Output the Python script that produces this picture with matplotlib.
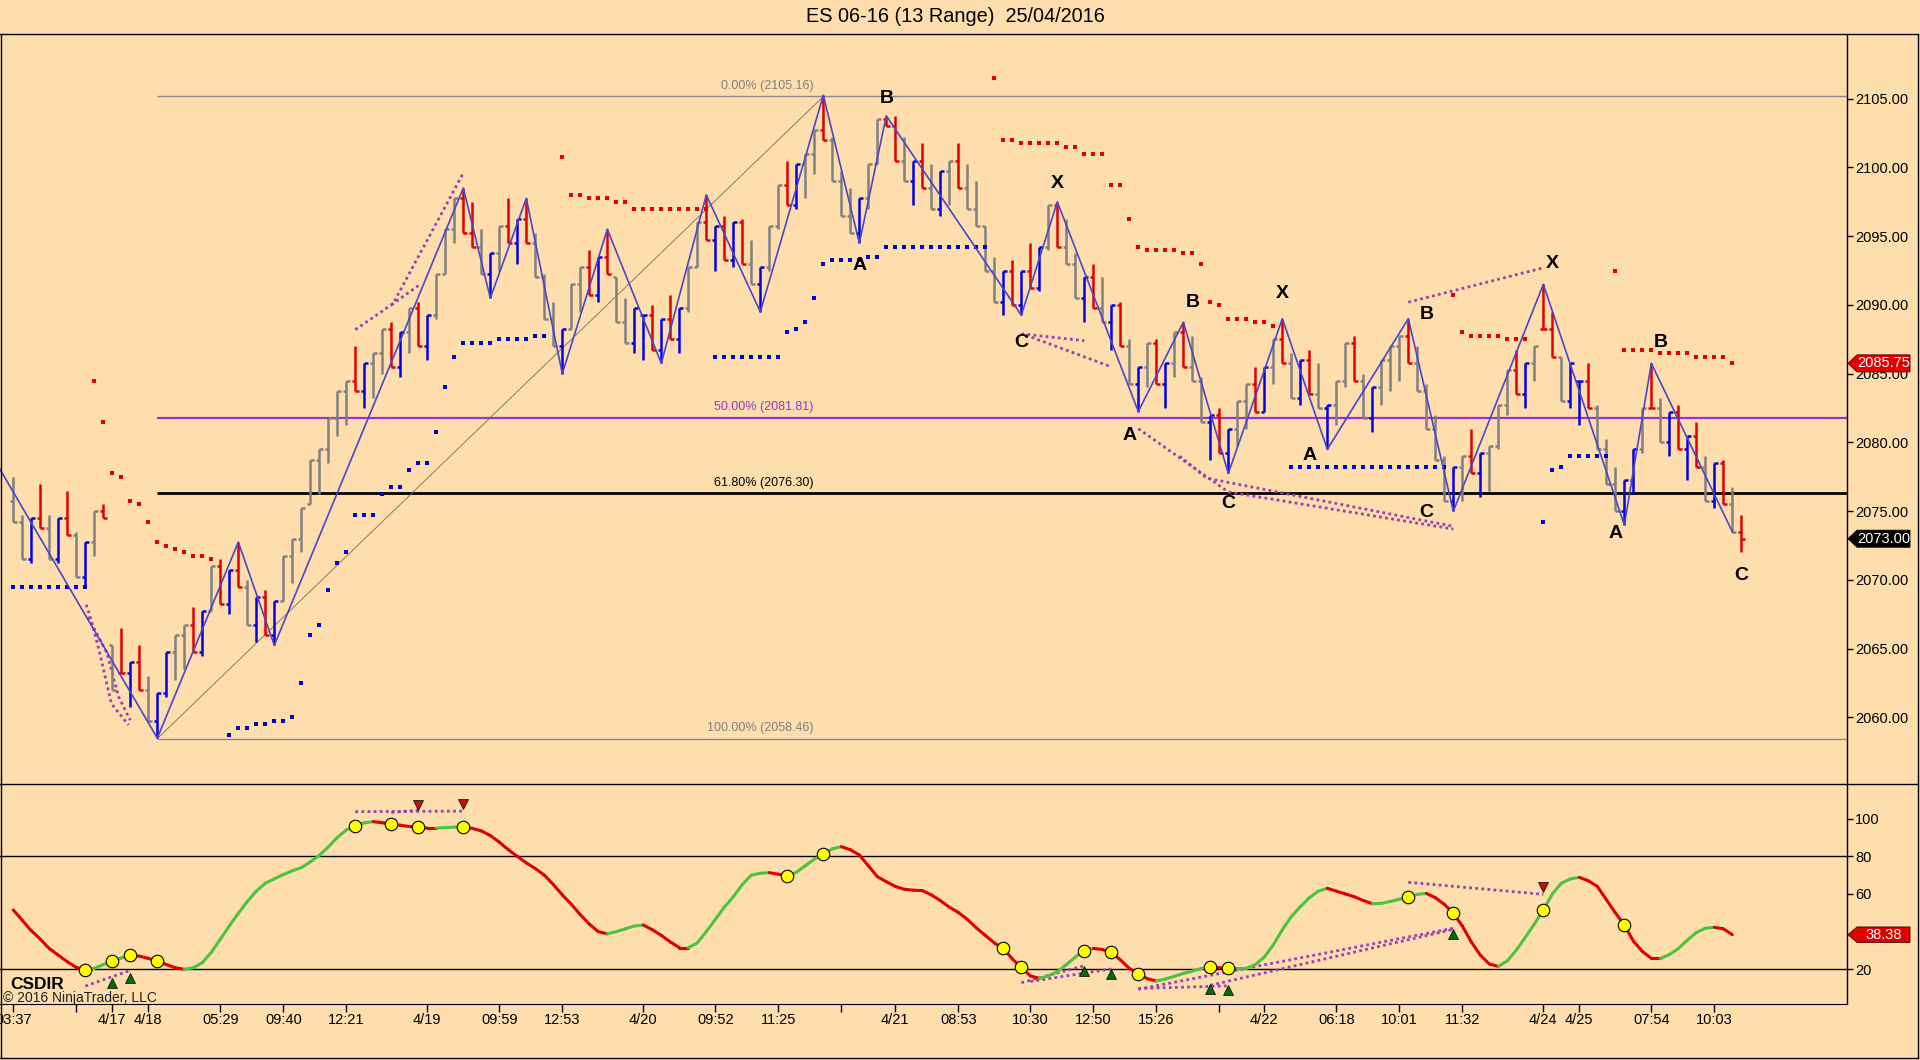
import matplotlib
matplotlib.use("Agg")
import matplotlib.pyplot as plt
from matplotlib.collections import LineCollection
from matplotlib.patches import Polygon
from matplotlib.lines import Line2D
from matplotlib import font_manager

plt.rcParams['font.family'] = ['Liberation Sans', 'DejaVu Sans']
_names = {f.name for f in font_manager.fontManager.ttflist}
NARROW = ['Liberation Sans Narrow', 'Liberation Sans'] if 'Liberation Sans Narrow' in _names \
    else ['Liberation Sans', 'DejaVu Sans']
NARROW_SIZE = 11.5 if 'Liberation Sans Narrow' in _names else 10.5

# ---------------- data ----------------
title = "ES 06-16 (13 Range)  25/04/2016"
RANGE = 3.25  # 13 ticks

bar_low = [
    2074.25, 2071.5, 2071.25, 2073.75, 2071.5, 2071.25, 2073.25, 2070.25, 2069.5, 2071.75,
    2074.5, 2062.0, 2063.25, 2060.75, 2062.0, 2059.75, 2058.5, 2061.5, 2062.75, 2063.5,
    2064.75, 2064.5, 2067.75, 2068.25, 2067.5, 2069.5, 2066.75, 2065.5, 2066.0, 2065.25,
    2068.5, 2069.75, 2072.0, 2075.5, 2076.25, 2078.5, 2080.5, 2081.25, 2083.75, 2082.5,
    2083.25, 2085.0, 2085.5, 2084.75, 2086.5, 2087.0, 2086.0, 2089.0, 2092.25, 2094.5,
    2095.25, 2094.25, 2092.25, 2090.5, 2092.5, 2094.5, 2093.0, 2094.5, 2092.0, 2089.0,
    2087.0, 2085.0, 2088.25, 2089.5, 2090.75, 2090.25, 2092.25, 2088.75, 2087.25, 2086.5,
    2086.0, 2086.75, 2085.75, 2087.5, 2086.5, 2089.5, 2092.75, 2094.75, 2092.5, 2093.25,
    2092.75, 2093.0, 2091.5, 2089.5, 2092.5, 2095.5, 2097.25, 2097.0, 2097.75, 2099.5,
    2102.0, 2099.0, 2096.5, 2095.25, 2094.5, 2097.0, 2100.25, 2103.0, 2100.5, 2099.0,
    2097.25, 2098.5, 2097.0, 2096.5, 2097.25, 2098.5, 2097.0, 2095.75, 2092.5, 2090.25,
    2089.25, 2090.0, 2089.25, 2091.25, 2091.0, 2094.0, 2094.25, 2093.0, 2090.5, 2088.75,
    2089.75, 2088.75, 2086.75, 2087.0, 2084.25, 2082.25, 2084.0, 2084.25, 2082.5, 2084.75,
    2085.5, 2084.5, 2081.5, 2078.75, 2079.25, 2077.75, 2079.75, 2081.0, 2082.25, 2082.25,
    2084.25, 2085.75, 2083.25, 2082.75, 2083.5, 2082.5, 2079.5, 2081.25, 2084.0, 2084.5,
    2081.75, 2080.75, 2082.75, 2083.75, 2084.5, 2085.75, 2083.75, 2081.0, 2078.75, 2075.75,
    2075.0, 2075.75, 2077.75, 2076.0, 2076.5, 2079.5, 2082.0, 2083.5, 2082.5, 2084.5,
    2088.25, 2086.25, 2083.0, 2082.5, 2081.25, 2082.5, 2079.5, 2077.0, 2075.0, 2074.0,
    2076.25, 2079.25, 2082.5, 2080.0, 2079.0, 2079.5, 2077.25, 2078.25, 2075.75, 2075.25,
    2075.5, 2073.5, 2072.0,
]
bar_color = ("ggbrgbrgbg" "rgrbrgbbgg" "rbgrbrgbrb" "ggggggggrb" "ggrbgrbggg"
             "rrgbgrbrgg" "gbggrbrggb" "brbrbggrbr" "brgbggrbgg" "rgggbggrrg"
             "brgbgrgggg" "brbrbgrggb" "rgbrgbgrbg" "rggbrbggrb" "grgbrgbggr"
             "gbgggrgggg" "bgrbgggrbg" "rrgbbrgggb" "bgrgbrbrgb" "rgr")
partial_high = {10: 2075.5, 97: 2103.75, 169: 2087.0, 192: 2074.75}
first_open = 2075.75
last_close = 2073.00

red_dot_idx = [9, 10, 11, 12, 13, 14, 15, 16, 17, 18, 19, 20, 21, 22,
               61, 62, 63, 64, 65, 66, 67, 68, 69, 70, 71, 72, 73, 74, 75, 76, 77,
               109, 110, 111, 112, 113, 114, 115, 116, 117, 118, 119, 120, 121, 122, 123,
               124, 125, 126, 127, 128, 129, 130, 131, 132, 133, 134, 135, 136, 137, 138, 139, 140,
               160, 161, 162, 163, 164, 165, 166, 167, 168,
               178, 179, 180, 181, 182, 183, 184, 185, 186, 187, 188, 189, 190, 191]
red_dot_val = [2084.5, 2081.5, 2077.75, 2077.5, 2075.75, 2075.5, 2074.25, 2072.75, 2072.5, 2072.25,
               2072.0, 2071.75, 2071.75, 2071.5,
               2100.75, 2098.0, 2098.0, 2097.75, 2097.75, 2097.75, 2097.5, 2097.5, 2097.0, 2097.0,
               2097.0, 2097.0, 2097.0, 2097.0, 2097.0, 2097.0, 2097.0,
               2106.5, 2102.0, 2102.0, 2101.75, 2101.75, 2101.75, 2101.75, 2101.75, 2101.5, 2101.5,
               2101.0, 2101.0, 2101.0, 2098.75, 2098.75,
               2096.25, 2094.25, 2094.0, 2094.0, 2094.0, 2094.0, 2093.75, 2093.75, 2093.0, 2090.25,
               2090.0, 2089.0, 2089.0, 2089.0, 2088.75, 2088.75, 2088.5,
               2090.75, 2088.0, 2087.75, 2087.75, 2087.75, 2087.75, 2087.5, 2087.5, 2087.5,
               2092.5, 2086.75, 2086.75, 2086.75, 2086.75, 2086.5, 2086.5, 2086.5, 2086.5,
               2086.25, 2086.25, 2086.25, 2086.25, 2085.75]

blue_dot_idx = [0, 1, 2, 3, 4, 5, 6, 7, 8,
                24, 25, 26, 27, 28, 29, 30, 31, 32, 33, 34, 35, 36, 37, 38, 39, 40, 41, 42, 43,
                44, 45, 46, 47, 48, 49, 50, 51, 52, 53, 54, 55, 56, 57, 58, 59,
                78, 79, 80, 81, 82, 83, 84, 85, 86, 87, 88, 89, 90, 91, 92, 93, 94, 95, 96,
                97, 98, 99, 100, 101, 102, 103, 104, 105, 106, 107, 108,
                142, 143, 144, 145, 146, 147, 148, 149, 150, 151, 152, 153, 154, 155, 156, 157, 158, 159,
                170, 171, 172, 173, 174, 175, 176, 177]
blue_dot_val = [2069.5, 2069.5, 2069.5, 2069.5, 2069.5, 2069.5, 2069.5, 2069.5, 2069.5,
                2058.75, 2059.25, 2059.25, 2059.5, 2059.5, 2059.75, 2059.75, 2060.0, 2062.5, 2066.0,
                2066.75, 2069.25, 2071.25, 2072.0, 2074.75, 2074.75, 2074.75, 2076.25, 2076.75, 2076.75,
                2078.0, 2078.5, 2078.5, 2080.75, 2084.0, 2086.25, 2087.25, 2087.25, 2087.25, 2087.25,
                2087.5, 2087.5, 2087.5, 2087.5, 2087.75, 2087.75,
                2086.25, 2086.25, 2086.25, 2086.25, 2086.25, 2086.25, 2086.25, 2086.25, 2088.0, 2088.25,
                2088.75, 2090.5, 2093.0, 2093.25, 2093.25, 2093.25, 2093.25, 2093.5, 2093.5,
                2094.25, 2094.25, 2094.25, 2094.25, 2094.25, 2094.25, 2094.25, 2094.25, 2094.25, 2094.25,
                2094.25, 2094.25,
                2078.25, 2078.25, 2078.25, 2078.25, 2078.25, 2078.25, 2078.25, 2078.25, 2078.25, 2078.25,
                2078.25, 2078.25, 2078.25, 2078.25, 2078.25, 2078.25, 2078.25, 2078.25,
                2074.25, 2078.0, 2078.25, 2079.0, 2079.0, 2079.0, 2079.0, 2079.0]

zz_idx = [-6, 16, 25, 29, 50, 53, 57, 61, 66, 72, 77, 83, 90, 94, 97, 112, 116, 125, 130,
          135, 141, 146, 155, 160, 170, 179, 182, 191]
zz_price = [2083.1, 2058.5, 2072.75, 2065.25, 2098.5, 2090.5, 2097.75, 2085.0, 2095.5, 2085.75,
            2098.0, 2089.5, 2105.25, 2094.5, 2103.75, 2089.25, 2097.5, 2082.25, 2088.75,
            2077.75, 2089.0, 2079.5, 2089.0, 2075.0, 2091.5, 2074.0, 2085.75, 2073.5]

# pattern letters anchored to zigzag pivots
pat_text = ['B', 'A', 'X', 'C', 'A', 'B', 'C', 'X', 'A', 'B', 'C', 'X', 'A', 'B', 'C']
pat_idx = [97, 94, 116, 112, 125, 130, 135, 141, 146, 155, 160, 170, 179, 182, 191]
pat_price = [2103.75, 2094.5, 2097.5, 2089.25, 2082.25, 2088.75, 2077.75, 2089.0, 2079.5,
             2089.0, 2075.0, 2091.5, 2074.0, 2085.75, 2073.5]

fib_low_idx, fib_low = 16, 2058.46
fib_high_idx, fib_high = 90, 2105.16
fib_50 = 2081.81
fib_618 = 2076.30

div_price_lines = [
    [(8.1, 2068.2), (8.7, 2067.0), (9.6, 2064.7), (10.9, 2061.0), (12.8, 2059.45)],
    [(8.3, 2067.3), (10.4, 2064.7), (11.7, 2061.5), (13.0, 2059.8)],
    [(38.0, 2088.2), (42.2, 2090.1), (50.0, 2099.6)],
    [(42.0, 2090.0), (45.0, 2091.4)],
    [(112.0, 2087.9), (119.0, 2087.4)],
    [(112.5, 2087.8), (122.0, 2085.5)],
    [(125.0, 2081.0), (135.0, 2076.4), (160.0, 2073.7)],
    [(129.6, 2079.0), (132.6, 2077.4), (160.0, 2073.9)],
    [(155.0, 2090.2), (170.0, 2092.7)],
]

csdir = [51.5, 46, 40.5, 36, 31, 27.5, 24, 21, 19.6, 20.5,
         22.5, 24.4, 26, 27.4, 27, 25.8, 24.4, 22.5, 20.8, 20,
         20.8, 23.5, 29, 36, 43, 49.7, 56, 61.5, 65.7, 68,
         70.3, 72.3, 74, 77, 80.5, 85, 90, 94, 96.1, 97.8,
         98.4, 97.8, 97.2, 96.5, 95.8, 95.4, 95, 95, 95.2, 95.5,
         95.7, 94.8, 93.5, 91, 87.5, 83.5, 80, 76.5, 73.5, 70,
         65, 59.5, 54.5, 49, 44, 40, 38.8, 40, 41.5, 43,
         43.5, 41, 38, 34.5, 31.5, 31.5, 34, 40, 46.5, 53,
         58.5, 65, 70, 71, 71.3, 70.5, 69.5, 71.5, 75, 78.5,
         81, 84, 85.1, 83.5, 80.7, 75, 69.2, 66.5, 64, 62.5,
         62, 61.8, 59.5, 56.5, 53, 50.2, 46.5, 42, 38, 34,
         31.1, 25.5, 21, 16.5, 15.2, 16.5, 18.7, 22.5, 26.5, 29.9,
         31.1, 30.5, 29, 25, 20.5, 17.5, 15, 13.8, 14.8, 16.3,
         17.8, 19, 20.5, 21, 20.8, 20.5, 20.4, 20.5, 22.5, 26.5,
         33, 41, 48, 53.2, 58, 61.5, 63, 61.5, 60, 58.5,
         56.5, 54.8, 55, 56, 57.2, 58.2, 59.8, 60.3, 58, 54.5,
         49.7, 43, 34.5, 27.5, 22.8, 21.5, 24.5, 30.2, 37, 44,
         51.5, 60, 65.7, 68, 68.8, 67, 64, 57, 50, 43.5,
         35, 29.5, 25.8, 25.8, 27.8, 31, 35.5, 39.5, 41.8, 42.3,
         41.5, 38.38]
csdir_dot_idx = [8, 11, 13, 16, 38, 42, 45, 50, 86, 90, 110, 112, 119, 122, 125, 133, 135,
                 155, 160, 170, 179]
tri_up_idx = [11, 13, 119, 122, 133, 135, 160]
tri_up_val = [12.9, 15.2, 19.1, 17.5, 9.5, 9.0, 38.7]
tri_dn_idx = [45, 50, 170]
tri_dn_val = [107.2, 107.6, 63.5]
div_osc_lines = [
    [(8.0, 11.1), (12.8, 19.1)],
    [(38.0, 103.7), (50.0, 104.0)],
    [(42.0, 103.3), (45.0, 104.5)],
    [(112.0, 12.9), (119.0, 21.9)],
    [(113.0, 13.5), (122.0, 20.2)],
    [(125.0, 9.4), (160.0, 41.8)],
    [(133.0, 11.5), (160.0, 41.2)],
    [(125.0, 9.8), (135.0, 11.2)],
    [(155.0, 66.2), (170.0, 59.8)],
]

xtick_idx = [0, 7, 11, 15, 23, 30, 37, 46, 54, 61, 70, 78, 85, 92, 98, 105, 113, 120, 127,
             134, 139, 147, 154, 161, 170, 174, 182, 189]
xtick_lab = ["03:37", "", "4/17", "4/18", "05:29", "09:40", "12:21", "4/19", "09:59", "12:53",
             "4/20", "09:52", "11:25", "", "4/21", "08:53", "10:30", "12:50", "15:26", "",
             "4/22", "06:18", "10:01", "11:32", "4/24", "4/25", "07:54", "10:03"]
price_ticks = [2060, 2065, 2070, 2075, 2080, 2085, 2090, 2095, 2100, 2105]
osc_ticks = [20, 60, 80, 100]

# ---------------- style ----------------
BG = '#FFDEAD'
C_GREY, C_RED, C_BLUE = '#808080', '#E00000', '#0000E6'
C_ZZ = '#4B45C8'
C_PURP = '#9B3FB0'
W, H = 1920, 1060
X0 = -1.478
X1 = 203.74

fig = plt.figure(figsize=(19.2, 10.6), dpi=100)
fig.patch.set_facecolor(BG)

ax = fig.add_axes([0, 1 - 784 / H, 1847 / W, (784 - 34) / H])
ax2 = fig.add_axes([0, 1 - 1004 / H, 1847 / W, (1004 - 784) / H])
for a in (ax, ax2):
    a.set_facecolor(BG)
    a.set_xlim(X0, X1)
    for s in ('top', 'left'):
        a.spines[s].set_visible(False)
    a.spines['right'].set_linewidth(1.0)
ax.spines['bottom'].set_visible(False)
ax.set_ylim(2055.16, 2109.705)
ax2.set_ylim(1.57, 118.39)

# ---------------- price bars ----------------
n = len(bar_low)
segs = {'g': [], 'r': [], 'b': []}
prev_close = first_open
for i in range(n):
    lo = bar_low[i]
    hi = partial_high.get(i, lo + RANGE)
    c = bar_color[i]
    if c == 'r':
        cl = lo
    elif c == 'b':
        cl = hi
    else:
        cl = hi if (i > 0 and lo >= bar_low[i - 1]) else lo
    if i == n - 1:
        cl = last_close
    op = min(max(prev_close, lo), hi)
    segs[c].append([(i, lo), (i, hi)])
    segs[c].append([(i - 0.4, op), (i, op)])
    segs[c].append([(i, cl), (i + 0.4, cl)])
    prev_close = cl
for c, col in (('g', C_GREY), ('r', C_RED), ('b', C_BLUE)):
    ax.add_collection(LineCollection(segs[c], colors=col, linewidths=1.8, zorder=4,
                                     capstyle='butt'))

# stop dots
ax.plot(red_dot_idx, red_dot_val, 's', color=C_RED, ms=3.4, mew=0, zorder=5)
ax.plot(blue_dot_idx, blue_dot_val, 's', color='#0000CC', ms=3.4, mew=0, zorder=5)

# fibonacci
ax.hlines([fib_high, fib_low], fib_low_idx, X1, colors='#8a8a8a', lw=1.0, zorder=2)
ax.hlines(fib_50, fib_low_idx, X1, colors='#9933CC', lw=1.6, zorder=2)
ax.hlines(fib_618, fib_low_idx, X1, colors='black', lw=2.0, zorder=2)
ax.plot([fib_low_idx, fib_high_idx], [fib_low, fib_high], color='#7a6a5a', lw=0.6, zorder=3)
lab_x = fib_high_idx - 1.1
ax.text(lab_x, fib_high + 0.3, f"0.00% ({fib_high:.2f})", ha='right', va='bottom',
        fontsize=9, color='#808080', zorder=6)
ax.text(lab_x, fib_50 + 0.3, f"50.00% ({fib_50:.2f})", ha='right', va='bottom',
        fontsize=9, color='#9933CC', zorder=6)
ax.text(lab_x, fib_618 + 0.3, f"61.80% ({fib_618:.2f})", ha='right', va='bottom',
        fontsize=9, color='black', zorder=6)
ax.text(lab_x, fib_low + 0.3, f"100.00% ({fib_low:.2f})", ha='right', va='bottom',
        fontsize=9, color='#808080', zorder=6)

# zigzag
ax.plot(zz_idx, zz_price, color=C_ZZ, lw=1.2, zorder=6)

# divergence lines
for pts in div_price_lines:
    xs, ys = zip(*pts)
    ax.plot(xs, ys, color=C_PURP, lw=2.0, ls=(0, (1, 1.2)), zorder=3)

# pattern letters (offsets in pixels)
pat_off = [(0, 17), (0, -22), (0, 18), (0, -27), (-9, -24), (9, 20), (0, -30), (0, 25),
           (-18, -6), (18, 4), (-27, -1), (9, 21), (-9, -9), (9, 21), (9, -44)]
for t, i, p, (dx, dy) in zip(pat_text, pat_idx, pat_price, pat_off):
    ax.annotate(t, (i, p), xytext=(dx * 0.72, dy * 0.72), textcoords='offset points',
                ha='center', va='center', fontsize=14, fontweight='bold', color='black',
                zorder=7)

# price axis
ax.yaxis.tick_right()
ax.set_yticks(price_ticks)
ax.set_yticklabels([f"{v:.2f}" for v in price_ticks], family=NARROW, fontsize=NARROW_SIZE)
ax.tick_params(axis='y', direction='out', length=4.5, width=1, pad=1.5, colors='black')
ax.set_xticks([])


def price_marker(a, val, text, color, half):
    tr = a.get_yaxis_transform()
    xa = 1848 / 1847.0
    xb = 1857 / 1847.0
    xc = 1910 / 1847.0
    poly = Polygon([(xa, val), (xb, val + half), (xc, val + half), (xc, val - half),
                    (xb, val - half)], closed=True, transform=tr, clip_on=False,
                   facecolor=color, edgecolor='#400000' if color != 'black' else 'black',
                   lw=0.6, zorder=10)
    a.add_patch(poly)
    a.text((xb + xc) / 2, val, text, transform=tr, ha='center', va='center', color='white',
           family=NARROW, fontsize=NARROW_SIZE, clip_on=False, zorder=11)


price_marker(ax, red_dot_val[-1], f"{red_dot_val[-1]:.2f}", '#E00000', 0.62)
price_marker(ax, last_close, f"{last_close:.2f}", 'black', 0.62)

# ---------------- oscillator ----------------
ax2.axhline(80, color='black', lw=1.0, zorder=1)
ax2.axhline(20, color='black', lw=1.0, zorder=1)
osc_segs, osc_cols = [], []
for i in range(1, len(csdir)):
    osc_segs.append([(i - 1, csdir[i - 1]), (i, csdir[i])])
    osc_cols.append('#4CC33F' if csdir[i] > csdir[i - 1] else '#E00000')
ax2.add_collection(LineCollection(osc_segs, colors=osc_cols, linewidths=2.2, zorder=3,
                                  capstyle='round'))
for pts in div_osc_lines:
    xs, ys = zip(*pts)
    ax2.plot(xs, ys, color=C_PURP, lw=2.0, ls=(0, (1, 1.2)), zorder=2)
ax2.plot(csdir_dot_idx, [csdir[i] for i in csdir_dot_idx], 'o', ms=9, mfc='#FFFF00',
         mec='black', mew=0.8, zorder=5)
ax2.plot(tri_up_idx, tri_up_val, '^', ms=7, mfc='#0A6A0A', mec='black', mew=0.5, zorder=5)
ax2.plot(tri_dn_idx, tri_dn_val, 'v', ms=7, mfc='#C01010', mec='black', mew=0.5, zorder=5)

ax2.yaxis.tick_right()
ax2.set_yticks(osc_ticks)
ax2.set_yticklabels([str(v) for v in osc_ticks], family=NARROW, fontsize=NARROW_SIZE)
ax2.tick_params(axis='y', direction='out', length=4.5, width=1, pad=1.5)
ax2.set_xticks(xtick_idx)
ax2.set_xticklabels(xtick_lab, family=NARROW, fontsize=NARROW_SIZE)
ax2.tick_params(axis='x', direction='out', length=5.5, width=1, pad=1.0)
price_marker(ax2, csdir[-1], f"{csdir[-1]:.2f}", '#E00000', 4.1)

# ---------------- frame & title ----------------
ov = fig.add_axes([0, 0, 1, 1], zorder=20)
ov.set_xlim(0, W)
ov.set_ylim(H, 0)
ov.axis('off')
ov.patch.set_alpha(0)
for (xa, ya, xb, yb) in [(0, 34, 1918, 34), (1, 34, 1, 1058), (1918, 34, 1918, 1058),
                         (0, 1058, 1918, 1058), (0, 784, 1918, 784)]:
    ov.add_line(Line2D([xa, xb], [ya, yb], color='black', lw=1.0))

ov.text(10, 989, "CSDIR", fontsize=12.5, fontweight='bold', ha='left', va='baseline',
        color='black')
ov.text(3, 1002, "\u00a9 2016 NinjaTrader, LLC", fontsize=10, ha='left', va='baseline',
        color='#202020')

fig.text(955 / W, 1 - 16.5 / H, title, ha='center', va='center', fontsize=14.3)

fig.savefig("out.png", dpi=100, facecolor=BG)
